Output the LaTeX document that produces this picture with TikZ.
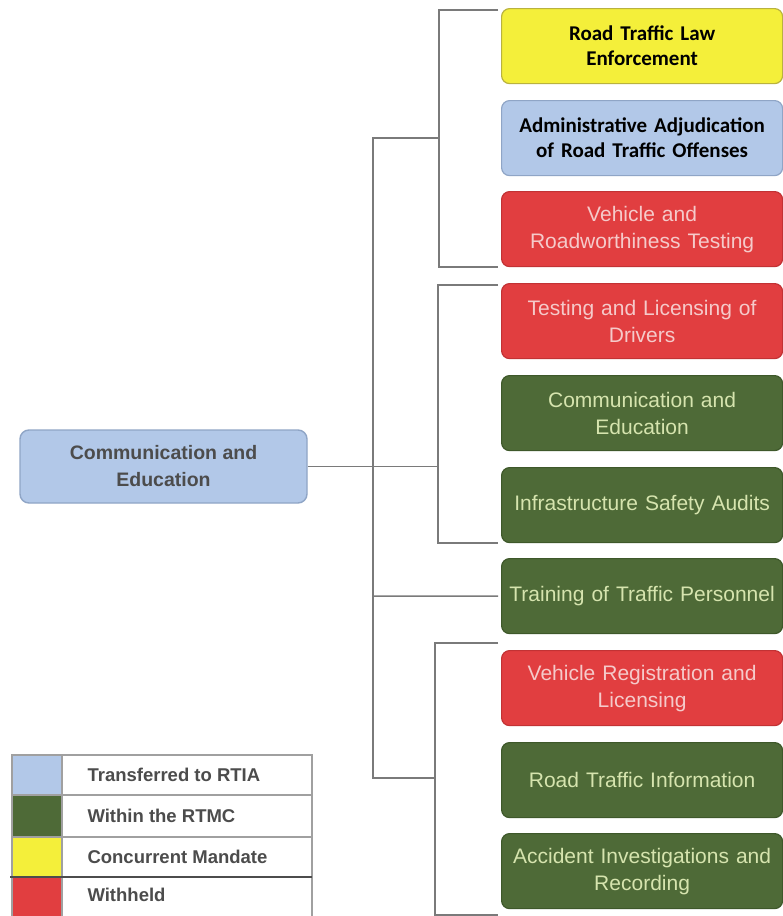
\documentclass[tikz,border=0pt]{standalone}
\usepackage{fontspec}
\setmainfont{Liberation Sans}
\newfontfamily\calfont{Carlito}
\usetikzlibrary{positioning}

\definecolor{cYellow}{HTML}{F4EF3A}
\definecolor{cYellowB}{HTML}{B9B23E}
\definecolor{cBlue}{HTML}{B2C8E8}
\definecolor{cBlueB}{HTML}{8FA5C6}
\definecolor{cRed}{HTML}{E13E40}
\definecolor{cRedB}{HTML}{C23234}
\definecolor{cGreen}{HTML}{4E6A37}
\definecolor{cGreenB}{HTML}{3E582A}
\definecolor{cRedTxt}{HTML}{F5CACA}
\definecolor{cGreenTxt}{HTML}{D6E4AE}
\definecolor{cDarkTxt}{HTML}{4C4C4C}
\definecolor{cLine}{HTML}{7A7A7A}
\definecolor{cGrid}{HTML}{A0A0A0}

\tikzset{
  box/.style={rounded corners=8pt, line width=1.2pt, anchor=north west,
    minimum width=281pt, minimum height=75pt, inner sep=0pt, align=center,
    text width=275pt},
  plain/.style={font=\fontsize{21}{27}\selectfont},
  strong/.style={font=\calfont\bfseries\fontsize{21}{25}\selectfont, text=black},
  ybox/.style={box, strong, fill=cYellow, draw=cYellowB},
  bbox/.style={box, strong, fill=cBlue, draw=cBlueB},
  rbox/.style={box, plain, fill=cRed, draw=cRedB, text=cRedTxt},
  gbox/.style={box, plain, fill=cGreen, draw=cGreenB, text=cGreenTxt},
  conn/.style={draw=cLine, line width=1.5pt},
  legtxt/.style={anchor=west, text=cDarkTxt, font=\bfseries\fontsize{18.5}{22}\selectfont},
}

\begin{document}
\begin{tikzpicture}[x=1pt,y=-1pt]
  \useasboundingbox[fill=white] (0,0) rectangle (783,916);

  % functional areas
  \node[ybox] (b1)  at (501,8)   {Road Traffic Law\\Enforcement};
  \node[bbox] (b2)  at (501,100) {Administrative Adjudication\\of Road Traffic Offenses};
  \node[rbox] (b3)  at (501,191) {Vehicle and\\Roadworthiness Testing};
  \node[rbox] (b4)  at (501,283) {Testing and Licensing of\\Drivers};
  \node[gbox] (b5)  at (501,375) {Communication and\\Education};
  \node[gbox] (b6)  at (501,467) {Infrastructure Safety Audits};
  \node[gbox] (b7)  at (501,558) {Training of Traffic Personnel};
  \node[rbox] (b8)  at (501,650) {Vehicle Registration and\\Licensing};
  \node[gbox] (b9)  at (501,742) {Road Traffic Information};
  \node[gbox] (b10) at (501,833) {Accident Investigations and\\Recording};

  % root
  \node[rounded corners=9pt, line width=1.4pt, fill=cBlue, draw=cBlueB,
        minimum width=287pt, minimum height=73pt, align=center,
        text=cDarkTxt, font=\bfseries\fontsize{19.5}{27}\selectfont]
        (root) at (163.5,466.5) {Communication and\\Education};

  % bracket coordinates
  \coordinate (k1t) at (498,10);
  \coordinate (k1b) at (498,267);
  \coordinate (k1m) at (439,138);
  \coordinate (k2t) at (498,285);
  \coordinate (k2b) at (498,543);
  \coordinate (k2m) at (438,466.5);
  \coordinate (k3t) at (498,643);
  \coordinate (k3b) at (498,915);
  \coordinate (k3m) at (435,778);
  \coordinate (trk) at (373,138);
  \coordinate (trb) at (373,778);
  \coordinate (trt) at (373,596);

  % connectors
  \draw[conn] (k1t) -| (439,267) -- (k1b);
  \draw[conn] (k1m) -- (trk) -- (trb) -- (k3m);
  \draw[conn] (k2t) -| (438,543) -- (k2b);
  \draw[conn] (root.east) -- (k2m);
  \draw[conn] (trt) -- ([xshift=-3pt]b7.west);
  \draw[conn] (k3t) -| (435,915) -- (k3b);

  % legend
  \fill[cBlue]   (12,755) rectangle (62,795);
  \fill[cGreen]  (12,795) rectangle (62,837);
  \fill[cYellow] (12,837) rectangle (62,877);
  \fill[cRed]    (12,877) rectangle (62,918);
  \draw[cGrid, line width=1.2pt] (12,755) rectangle (312,920);
  \draw[cGrid, line width=1.2pt] (62,755) -- (62,920);
  \draw[cGrid, line width=1.2pt] (12,795) -- (312,795);
  \draw[cGrid, line width=1.2pt] (12,837) -- (312,837);
  \draw[cDarkTxt, line width=2pt] (10,877) -- (312,877);
  \node[legtxt] (l1) at (84,775) {Transferred to RTIA};
  \node[legtxt] (l2) at (84,816) {Within the RTMC};
  \node[legtxt] (l3) at (84,857) {Concurrent Mandate};
  \node[legtxt] (l4) at (84,895) {Withheld};
\end{tikzpicture}
\end{document}
